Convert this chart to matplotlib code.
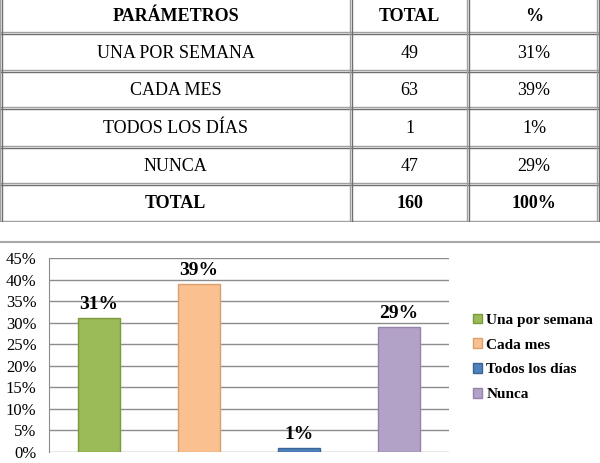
import matplotlib.pyplot as plt
from matplotlib.lines import Line2D
from matplotlib.patches import Patch

plt.rcParams['font.family'] = ['Liberation Serif', 'DejaVu Serif']

# data
parametros = ['UNA POR SEMANA', 'CADA MES', 'TODOS LOS DÍAS', 'NUNCA']
totales = [49, 63, 1, 47]
porcentajes = [31, 39, 1, 29]
total_general = 160
encabezados = ['PARÁMETROS', 'TOTAL', '%']

leyenda = ['Una por semana', 'Cada mes', 'Todos los días', 'Nunca']
colores = ['#9BBB59', '#FAC090', '#4F81BD', '#B3A2C7']
bordes = ['#7A9A3C', '#D9A06E', '#3A6496', '#9583AD']

W, H = 600, 463
fig = plt.figure(figsize=(W / 100, H / 100), dpi=100)

# ---- table ----
tab_h = 222
tax = fig.add_axes([0, 1 - tab_h / H, 1, tab_h / H])
tax.set_xlim(0, W)
tax.set_ylim(tab_h, 0)
tax.axis('off')

col_x = [0, 351, 468, W]
row_y = [-2, 33, 71, 108, 147, 184, 222]


def hline(y):
    tax.plot([0, W], [y - 1, y - 1], color='#A0A0A0', lw=1.0, solid_capstyle='butt')
    tax.plot([0, W], [y + 1, y + 1], color='#6E6E6E', lw=1.0, solid_capstyle='butt')


def vline(x, y0, y1):
    tax.plot([x - 1, x - 1], [y0, y1], color='#A0A0A0', lw=1.0)
    tax.plot([x + 1, x + 1], [y0, y1], color='#6E6E6E', lw=1.0)


for y in row_y[1:]:
    hline(y)
for x in col_x[1:-1]:
    vline(x, 0, tab_h)
vline(1, 0, tab_h)
vline(W - 2, 0, tab_h)

centers = [(col_x[i] + col_x[i + 1]) / 2 for i in range(3)]

filas = [encabezados]
for p, t, pc in zip(parametros, totales, porcentajes):
    filas.append([p, str(t), f'{pc}%'])
filas.append(['TOTAL', str(total_general), f'{sum(porcentajes)}%'])

for i, fila in enumerate(filas):
    yc = (row_y[i] + row_y[i + 1]) / 2 + 1
    bold = i == 0 or i == len(filas) - 1
    for j, txt in enumerate(fila):
        tax.text(centers[j], yc, txt, ha='center', va='center', fontsize=13,
                 fontweight='bold' if bold else 'normal')

# separator line
fig.add_artist(Line2D([0, 1], [1 - 242 / H, 1 - 242 / H], color='#A8A8A8', lw=1.5))

# ---- bar chart ----
ax = fig.add_axes([49 / W, (H - 452) / H, 400 / W, 194 / H])
xs = range(len(porcentajes))
vals = [p / 100 for p in porcentajes]
ax.bar(xs, vals, width=0.42, color=colores, edgecolor=bordes, linewidth=1, zorder=3)
for x, v, p in zip(xs, vals, porcentajes):
    ax.text(x, v + 0.012, f'{p}%', ha='center', va='bottom', fontsize=14,
            fontweight='bold', zorder=4)

ax.set_xlim(-0.5, 3.5)
ax.set_ylim(0, 0.45)
ax.set_yticks([i * 0.05 for i in range(10)])
ax.set_yticklabels([f'{i * 5}%' for i in range(10)], fontsize=12)
ax.set_xticks([])
ax.tick_params(axis='y', length=0, pad=9)
ax.grid(axis='y', color='#8C8C8C', lw=1, zorder=0)
for s in ['top', 'right', 'bottom']:
    ax.spines[s].set_visible(False)
ax.spines['left'].set_color('#8C8C8C')

handles = [Patch(facecolor=c, edgecolor=b) for c, b in zip(colores, bordes)]
fig.legend(handles, leyenda, loc='upper left', bbox_to_anchor=(459 / W, 1 - 300 / H),
           frameon=False, prop={'weight': 'bold', 'size': 11},
           handlelength=0.6, handleheight=0.6, handletextpad=0.3, labelspacing=0.75)

fig.savefig('out.png', dpi=100)
